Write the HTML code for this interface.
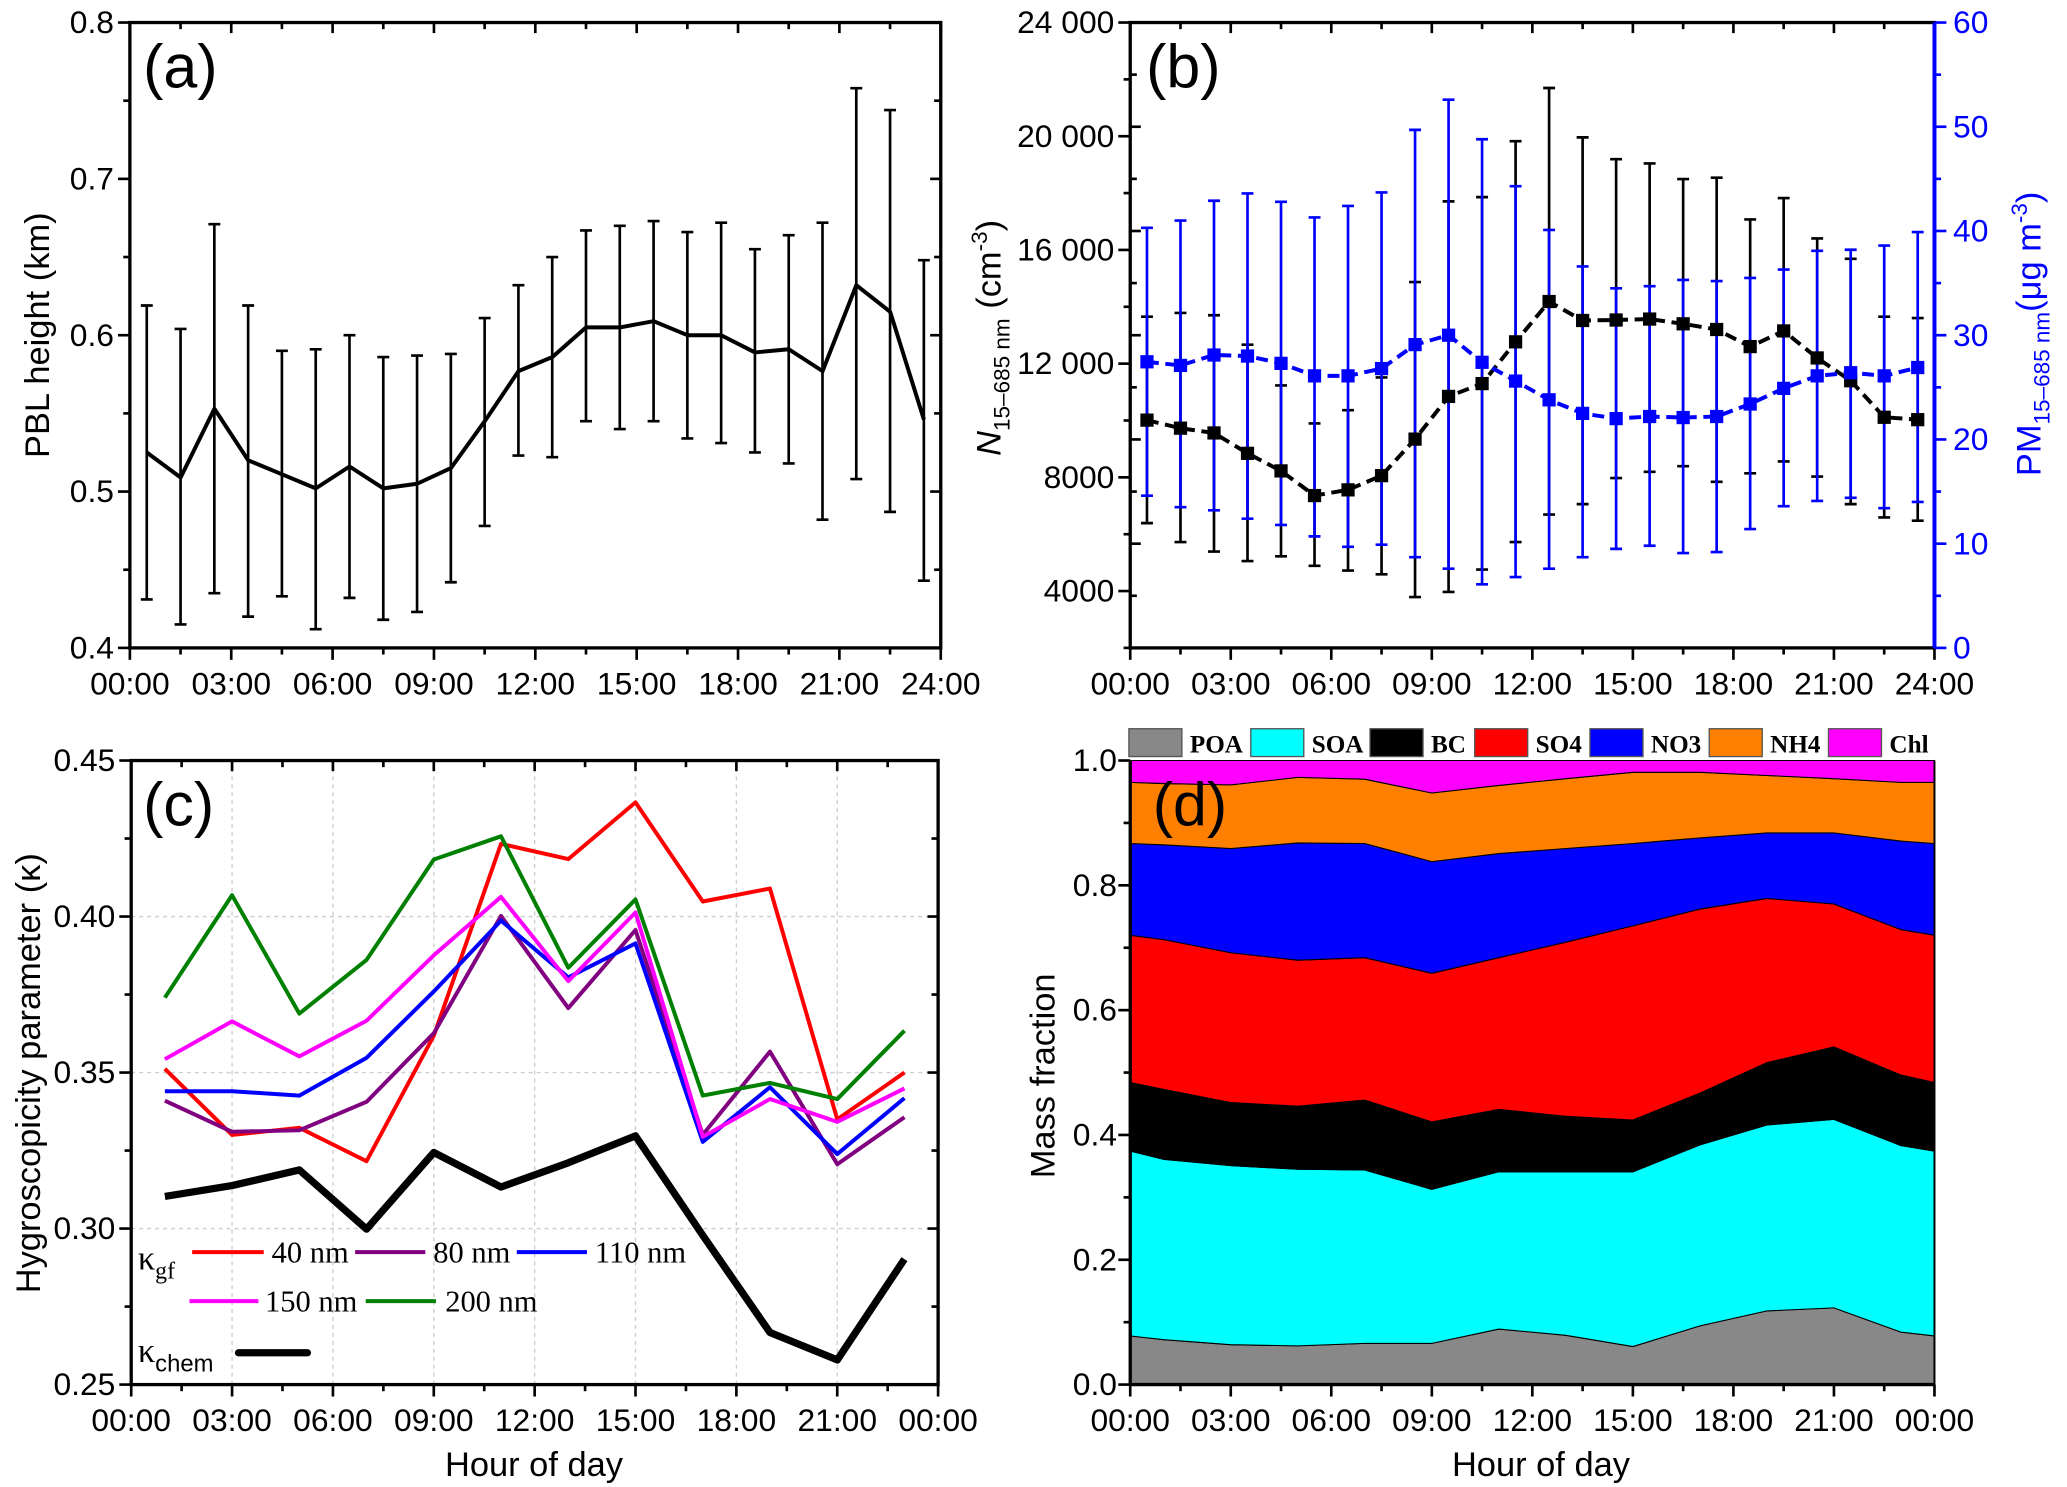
<!DOCTYPE html>
<html><head><meta charset="utf-8"><style>
html,body{margin:0;padding:0;background:#fff}
svg{display:block}
text{font-family:"Liberation Sans",Arial,sans-serif}
.ser{font-family:"Liberation Serif","Times New Roman",serif}
</style></head><body>
<svg id="fig" xmlns="http://www.w3.org/2000/svg" width="2067" height="1487" viewBox="0 0 1560 1122.3"></svg>
<script>
// ---------- Panel (a) data ----------
const aHours=[0.5,1.5,2.5,3.5,4.5,5.5,6.5,7.5,8.5,9.5,10.5,11.5,12.5,13.5,14.5,15.5,16.5,17.5,18.5,19.5,20.5,21.5,22.5,23.5];
const pblMean=[0.525,0.509,0.553,0.520,0.511,0.502,0.516,0.502,0.505,0.515,0.545,0.577,0.586,0.605,0.605,0.609,0.600,0.600,0.589,0.591,0.577,0.632,0.615,0.546];
const pblHigh=[0.619,0.604,0.671,0.619,0.590,0.591,0.600,0.586,0.587,0.588,0.611,0.632,0.650,0.667,0.670,0.673,0.666,0.672,0.655,0.664,0.672,0.758,0.744,0.648];
const pblLow=[0.431,0.415,0.435,0.420,0.433,0.412,0.432,0.418,0.423,0.442,0.478,0.523,0.522,0.545,0.540,0.545,0.534,0.531,0.525,0.518,0.482,0.508,0.487,0.443];
// ---------- Panel (b) data ----------
const nMean=[10013,9730,9562,8845,8227,7359,7560,8060,9345,10847,11298,12767,14185,13518,13535,13568,13401,13201,12600,13151,12200,11398,10113,10029];
const nHigh=[13652,13785,13702,12667,11232,9895,10363,11515,14870,17708,17858,19827,21697,19960,19192,19042,18492,18542,17073,17825,16405,15688,13652,13602];
const nLow=[6390,5723,5389,5055,5222,4889,4722,4590,3790,3970,4756,5723,6691,7058,7976,8193,8394,7843,8143,8560,8026,7058,6591,6474];
const pmMean=[27.45,27.1,28.1,28.0,27.3,26.1,26.1,26.8,29.1,30.0,27.4,25.6,23.8,22.5,22.0,22.2,22.1,22.2,23.4,24.9,26.1,26.4,26.1,26.9];
const pmHigh=[40.3,41.0,42.9,43.6,42.8,41.3,42.4,43.7,49.7,52.6,48.8,44.3,40.1,36.6,34.5,34.7,35.3,35.2,35.5,36.3,38.1,38.2,38.6,39.9];
const pmLow=[14.6,13.5,13.2,12.4,11.8,10.7,9.7,9.9,8.7,7.6,6.1,6.8,7.6,8.7,9.5,9.8,9.1,9.2,11.4,13.6,14.1,14.4,13.4,14.0];
// ---------- Panel (c) data ----------
const cHours=[1,3,5,7,9,11,13,15,17,19,21,23];
const k40=[0.3512,0.330,0.3323,0.3216,0.3618,0.4233,0.4184,0.4366,0.4048,0.409,0.335,0.350];
const k80=[0.341,0.331,0.3315,0.3406,0.3626,0.4002,0.3707,0.3957,0.3301,0.3567,0.3206,0.3357];
const k110=[0.344,0.344,0.3426,0.3547,0.376,0.3987,0.3805,0.3914,0.3278,0.3453,0.3239,0.3418];
const k150=[0.3543,0.3664,0.3552,0.3666,0.3876,0.4063,0.3793,0.4013,0.3294,0.3415,0.3342,0.3449];
const k200=[0.374,0.4068,0.3689,0.3861,0.4183,0.4257,0.3836,0.4055,0.3426,0.3467,0.3415,0.3634];
const kChem=[0.3103,0.3138,0.3188,0.2998,0.3244,0.3133,0.3211,0.3297,0.2978,0.2667,0.2579,0.2902];
// ---------- Panel (d) data ----------
const dHours=[0,1,3,5,7,9,11,13,15,17,19,21,23,24];
const fPOA=[0.078,0.072,0.064,0.062,0.066,0.066,0.089,0.079,0.061,0.094,0.118,0.123,0.084,0.078];
const fSOA=[0.296,0.289,0.287,0.283,0.278,0.247,0.252,0.262,0.280,0.290,0.298,0.302,0.299,0.296];
const fBC=[0.110,0.112,0.101,0.101,0.112,0.108,0.100,0.089,0.083,0.083,0.100,0.116,0.113,0.110];
const fSO4=[0.236,0.240,0.240,0.234,0.228,0.238,0.243,0.279,0.311,0.295,0.263,0.229,0.233,0.236];
const fNO3=[0.147,0.152,0.167,0.188,0.183,0.179,0.167,0.150,0.132,0.114,0.105,0.114,0.142,0.147];
const fNH4=[0.098,0.098,0.102,0.105,0.103,0.110,0.109,0.112,0.114,0.105,0.092,0.087,0.094,0.098];
const timeTicks=["00:00","03:00","06:00","09:00","12:00","15:00","18:00","21:00","24:00"];
const timeTicks2=["00:00","03:00","06:00","09:00","12:00","15:00","18:00","21:00","00:00"];
const aYTicks=["0.4","0.5","0.6","0.7","0.8"];
const bYTicks=["4000","8000","12 000","16 000","20 000","24 000"];
const bRTicks=["0","10","20","30","40","50","60"];
const cYTicks=["0.25","0.30","0.35","0.40","0.45"];
const dYTicks=["0.0","0.2","0.4","0.6","0.8","1.0"];

const NS="http://www.w3.org/2000/svg";
const fig=document.getElementById('fig');
function mk(tag,attrs,parent,txt){const e=document.createElementNS(NS,tag);for(const k in attrs)e.setAttribute(k,attrs[k]);if(txt!==undefined)e.textContent=txt;(parent||fig).appendChild(e);return e;}
function scale(d0,d1,r0,r1){return v=>r0+(v-d0)/(d1-d0)*(r1-r0);}

function frame(g,L,R,T,B,xs,yVals,yLabels,ys,xLabels,minorY,rightAxis,grid){
  if(grid){
    for(let h=3;h<24;h+=3){const l=mk('line',{x1:xs(h),x2:xs(h),y1:T,y2:B,stroke:'#ccc','stroke-width':1,'stroke-dasharray':'3,3'},g);}
    yVals.slice(1,-1).forEach(v=>{const l=mk('line',{x1:L,x2:R,y1:ys(v),y2:ys(v),stroke:'#ccc','stroke-width':1,'stroke-dasharray':'3,3'},g);});
  }
  // x ticks
  for(let h=0;h<=24;h+=1.5){const maj=(h%3===0);const x=xs(h);
    mk('line',{x1:x,x2:x,y1:B,y2:B+(maj?9:5),stroke:'#000','stroke-width':2},g);
    mk('line',{x1:x,x2:x,y1:T,y2:T+(maj?8:5),stroke:'#000','stroke-width':2},g);}
  xLabels.forEach((t,i)=>{const e=mk('text',{x:xs(i*3),y:B+35,'font-size':24,'text-anchor':'middle'},g,t);});
  minorY.forEach(v=>{const y=ys(v);mk('line',{x1:L-5,x2:L,y1:y,y2:y,stroke:'#000','stroke-width':2},g);if(!rightAxis)mk('line',{x1:R-5,x2:R,y1:y,y2:y,stroke:'#000','stroke-width':2},g);});
  yVals.forEach((v,i)=>{const y=ys(v);mk('line',{x1:L-9,x2:L,y1:y,y2:y,stroke:'#000','stroke-width':2},g);if(!rightAxis)mk('line',{x1:R-8,x2:R,y1:y,y2:y,stroke:'#000','stroke-width':2},g);
    const e=mk('text',{x:L-12,y:y+8,'font-size':24,'text-anchor':'end'},g,yLabels[i]);});
  const r=mk('rect',{x:L,y:T,width:R-L,height:B-T,fill:'none',stroke:'#000','stroke-width':2.5},g);
  
}
function errbars(g,xs,ys,hours,hi,lo,color,cap,name){
  hours.forEach((h,i)=>{const x=xs(h);
    const e=mk('path',{d:`M${x},${ys(hi[i])}V${ys(lo[i])}M${x-cap},${ys(hi[i])}H${x+cap}M${x-cap},${ys(lo[i])}H${x+cap}`,stroke:color,'stroke-width':2,fill:'none'},g);
    });
}
function poly(g,xs,ys,hours,vals,color,w,dash,name){
  const d=hours.map((h,i)=>(i?'L':'M')+xs(h).toFixed(1)+','+ys(vals[i]).toFixed(1)).join('');
  const p=mk('path',{d:d,stroke:color,'stroke-width':w,fill:'none','stroke-linejoin':'round'},g);
  if(dash)p.setAttribute('stroke-dasharray',dash);
  return p;
}
function label(g,x,y,t,name){const e=mk('text',{x:x,y:y,'font-size':46},g,t);}

// ===== Panel a =====
(function(){
  const g=mk('g',{});
  const L=98,R=710,T=17,B=489;const xs=scale(0,24,L,R),ys=scale(0.4,0.8,B,T);
  frame(g,L,R,T,B,xs,[0.4,0.5,0.6,0.7,0.8],aYTicks,ys,timeTicks,[0.45,0.55,0.65,0.75],false,false);
  errbars(g,xs,ys,aHours,pblHigh,pblLow,'#000',4.5,'pbl-error-bar');
  poly(g,xs,ys,aHours,pblMean,'#000',3,null,'pbl-height-line');
  label(g,108,66,'(a)','panel-label-a');
  const t=mk('text',{x:0,y:0,'font-size':26,'text-anchor':'middle',transform:'translate(37,253) rotate(-90)'},g,'PBL height (km)');
  
})();

// ===== Panel b =====
(function(){
  const g=mk('g',{});
  const L=853,R=1460,T=17,B=489;const xs=scale(0,24,L,R),ys=scale(2000,24000,B,T),yr=scale(0,60,B,T);
  frame(g,L,R,T,B,xs,[4000,8000,12000,16000,20000,24000],bYTicks,ys,timeTicks,[2000,6000,10000,14000,18000,22000],true,false);
  // right blue axis
  mk('line',{x1:R,x2:R,y1:T,y2:B,stroke:'#00f','stroke-width':3},g);
  for(let v=0;v<=60;v+=5){const y=yr(v);const maj=v%10===0;mk('line',{x1:R,x2:R+(maj?9:5),y1:y,y2:y,stroke:'#00f','stroke-width':2},g);mk('line',{x1:L,x2:L+(maj?8:5),y1:y,y2:y,stroke:'#000','stroke-width':2},g);}
  bRTicks.forEach((t,i)=>{const e=mk('text',{x:R+14,y:yr(i*10)+8,'font-size':24,fill:'#00f'},g,t);});
  errbars(g,xs,ys,aHours,nHigh,nLow,'#000',4.5,'n-error-bar');
  errbars(g,xs,yr,aHours,pmHigh,pmLow,'#00f',4.5,'pm-error-bar');
  poly(g,xs,ys,aHours,nMean,'#000',3,'9,5','n-line');
  poly(g,xs,yr,aHours,pmMean,'#00f',3,'9,5','pm-line');
  aHours.forEach((h,i)=>{const m=mk('rect',{x:xs(h)-5,y:ys(nMean[i])-5,width:10,height:10,fill:'#000'},g);
    const q=mk('rect',{x:xs(h)-5,y:yr(pmMean[i])-5,width:10,height:10,fill:'#00f'},g);});
  label(g,865,66,'(b)','panel-label-b');
  const t=mk('text',{x:0,y:0,'font-size':26,'text-anchor':'middle',transform:'translate(755,255) rotate(-90)'},g);
  t.innerHTML='<tspan font-style="italic">N</tspan><tspan font-size="17" dy="7">15–685 nm</tspan><tspan dy="-7"> (cm</tspan><tspan font-size="17" dy="-10">-3</tspan><tspan dy="10">)</tspan>';
  
  const t2=mk('text',{x:0,y:0,'font-size':26,'text-anchor':'middle',fill:'#00f',transform:'translate(1540,252) rotate(-90)'},g);
  t2.innerHTML='PM<tspan font-size="17" dy="7">15–685 nm</tspan><tspan dy="-7">(μg m</tspan><tspan font-size="17" dy="-10">-3</tspan><tspan dy="10">)</tspan>';
  
})();

// ===== Panel c =====
(function(){
  const g=mk('g',{});
  const L=99,R=708,T=574,B=1045;const xs=scale(0,24,L,R),ys=scale(0.25,0.45,B,T);
  frame(g,L,R,T,B,xs,[0.25,0.30,0.35,0.40,0.45],cYTicks,ys,timeTicks2,[0.275,0.325,0.375,0.425],false,true);
  poly(g,xs,ys,cHours,k40,'#f00',3,null,'kappa-40nm-line');
  poly(g,xs,ys,cHours,k80,'#800080',3,null,'kappa-80nm-line');
  poly(g,xs,ys,cHours,k110,'#00f',3,null,'kappa-110nm-line');
  poly(g,xs,ys,cHours,k150,'#f0f',3,null,'kappa-150nm-line');
  poly(g,xs,ys,cHours,k200,'#008000',3,null,'kappa-200nm-line');
  poly(g,xs,ys,cHours,kChem,'#000',5.5,null,'kappa-chem-line');
  label(g,108,623,'(c)','panel-label-c');
  const lg=mk('g',{},g);
  const k1=mk('text',{x:104,y:958,'font-size':26,class:'ser'},lg);k1.innerHTML='κ<tspan font-size="18" dy="7">gf</tspan>';
  
  const ent=[[145,199,945,'#f00','40 nm',205],[268,321,945,'#800080','80 nm',327],[390,443,945,'#00f','110 nm',449],[143,195,982,'#f0f','150 nm',200],[276,329,982,'#008000','200 nm',336]];
  ent.forEach(e=>{const gg=mk('g',{},lg);
    mk('line',{x1:e[0],x2:e[1],y1:e[2],y2:e[2],stroke:e[3],'stroke-width':3},gg);mk('text',{x:e[5],y:e[2]+8,'font-size':23,class:'ser'},gg,e[4]);});
  const k2=mk('text',{x:104,y:1028,'font-size':26,class:'ser'},lg);k2.innerHTML='κ<tspan font-size="18" font-family="Liberation Sans" dy="7">chem</tspan>';
  
  const cl=mk('line',{x1:180,x2:232,y1:1021,y2:1021,stroke:'#000','stroke-width':5.5,'stroke-linecap':'round'},lg);
  const t=mk('text',{x:0,y:0,'font-size':26,'text-anchor':'middle',transform:'translate(30,810) rotate(-90)'},g,'Hygroscopicity parameter (κ)');
  
  const xt=mk('text',{x:403,y:1114,'font-size':26,'text-anchor':'middle'},g,'Hour of day');
})();

// ===== Panel d =====
(function(){
  const g=mk('g',{});
  const L=853,R=1460,T=574,B=1045;const xs=scale(0,24,L,R),ys=scale(0,1,B,T);
  const comps=[['POA',fPOA,'#888888'],['SOA',fSOA,'#00ffff'],['BC',fBC,'#000000'],['SO4',fSO4,'#ff0000'],['NO3',fNO3,'#0000ff'],['NH4',fNH4,'#ff8000']];
  let base=dHours.map(()=>0);
  comps.forEach(c=>{const top=base.map((b,i)=>b+c[1][i]);
    let d=dHours.map((h,i)=>(i?'L':'M')+xs(h).toFixed(1)+','+ys(top[i]).toFixed(1)).join('');
    for(let i=dHours.length-1;i>=0;i--)d+='L'+xs(dHours[i]).toFixed(1)+','+ys(base[i]).toFixed(1);
    const p=mk('path',{d:d+'Z',fill:c[2],stroke:'#000','stroke-width':0.8},g);
    base=top;});
  let d='M'+xs(0)+','+ys(1)+'H'+xs(24);for(let i=dHours.length-1;i>=0;i--)d+='L'+xs(dHours[i]).toFixed(1)+','+ys(base[i]).toFixed(1);
  const p=mk('path',{d:d+'Z',fill:'#ff00ff',stroke:'#000','stroke-width':0.8},g);
  // frame: left and bottom axes only with ticks
  mk('line',{x1:L,x2:L,y1:T,y2:B,stroke:'#000','stroke-width':2.5},g);
  mk('line',{x1:L,x2:R,y1:B,y2:B,stroke:'#000','stroke-width':2.5},g);
  mk('line',{x1:R,x2:R,y1:T,y2:B,stroke:'#000','stroke-width':1.5},g);
  for(let h=0;h<=24;h+=1.5){const maj=h%3===0;mk('line',{x1:xs(h),x2:xs(h),y1:B,y2:B+(maj?9:5),stroke:'#000','stroke-width':2},g);}
  timeTicks2.forEach((t,i)=>{const e=mk('text',{x:xs(i*3),y:B+35,'font-size':24,'text-anchor':'middle'},g,t);});
  for(let v=0;v<=1.0001;v+=0.1){const maj=Math.round(v*10)%2===0;mk('line',{x1:L-(maj?9:5),x2:L,y1:ys(v),y2:ys(v),stroke:'#000','stroke-width':2},g);}
  dYTicks.forEach((t,i)=>{const e=mk('text',{x:L-10,y:ys(i*0.2)+8,'font-size':24,'text-anchor':'end'},g,t);});
  label(g,870,623,'(d)','panel-label-d');
  const lg=mk('g',{},g);
  const lab=[['POA','#888888',852],['SOA','#00ffff',944],['BC','#000000',1034],['SO4','#ff0000',1113],['NO3','#0000ff',1200],['NH4','#ff8000',1290],['Chl','#ff00ff',1380]];
  lab.forEach(l=>{const gg=mk('g',{},lg);
    mk('rect',{x:l[2],y:550,width:40,height:21,fill:l[1],stroke:'#555','stroke-width':1},gg);
    mk('text',{x:l[2]+46,y:568,'font-size':19,'font-weight':'bold',class:'ser'},gg,l[0]);});
  const t=mk('text',{x:0,y:0,'font-size':26,'text-anchor':'middle',transform:'translate(796,812) rotate(-90)'},g,'Mass fraction');
  
  const xt=mk('text',{x:1163,y:1114,'font-size':26,'text-anchor':'middle'},g,'Hour of day');
})();
</script>
</body></html>
